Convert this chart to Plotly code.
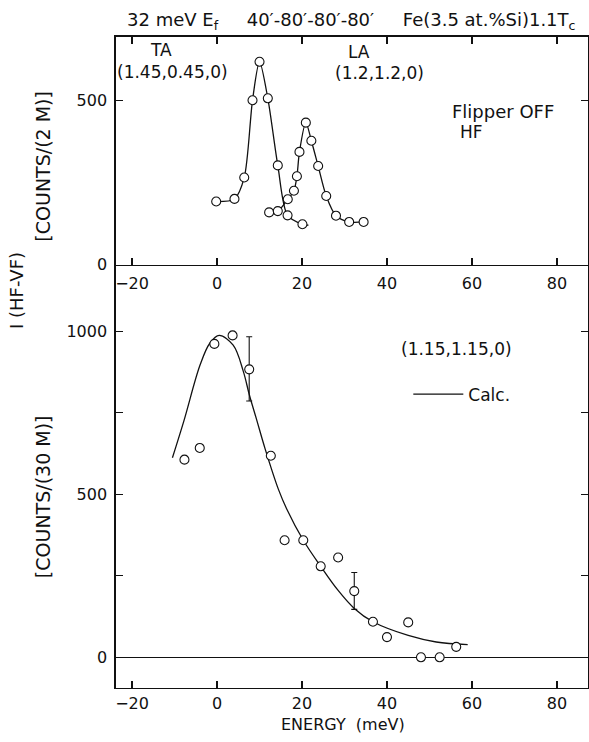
import plotly.graph_objects as go

# ---------------- data ----------------
# Top panel: Flipper OFF, HF  [counts / (2 M)]
ta_energy = [-0.2, 4.1, 6.4, 8.35, 10.0, 11.95, 14.3, 16.6, 20.1]
ta_counts = [192, 200, 265, 500, 617, 506, 302, 150, 123]
ta_fit_energy = [-0.2, 4.1, 6.4, 8.35, 10.0, 11.95, 14.3, 16.6, 20.1, 21.5]
ta_fit_counts = [192, 200, 265, 500, 617, 506, 302, 150, 123, 120]

la_energy = [12.26, 14.3, 16.65, 18.1, 18.8, 19.4, 20.9, 22.2, 23.8, 25.7, 28.0, 31.1, 34.5]
la_counts = [159, 163, 199, 225, 269, 343, 432, 377, 300, 209, 149, 130, 130]
la_fit_energy = [11.9, 12.26, 14.3, 16.65, 18.1, 18.8, 19.4, 20.9, 22.2, 23.8, 25.7, 28.0, 31.1, 34.5]
la_fit_counts = [165, 159, 163, 199, 225, 269, 343, 432, 377, 300, 209, 149, 130, 130]

# Bottom panel: I(HF-VF) [counts / (30 M)] at (1.15,1.15,0)
diff_energy = [-7.67, -4.07, -0.63, 3.66, 7.57, 12.66, 15.9, 20.3, 24.4, 28.5,
               32.3, 36.7, 40.0, 45.0, 48.0, 52.4, 56.3]
diff_counts = [606, 642, 961, 987, 883, 618, 359, 359, 279, 306,
               203, 109, 62, 107, 0, 0, 32]
err_energy = [7.57, 32.3]
err_counts = [883, 203]
err_plus = [100, 57]
err_minus = [97, 56]

calc_energy = [-10.5, -7.8, -4.0, -1.7, 0.5, 3.8, 6.2, 7.6, 9.4, 11.3, 14.45,
               16.4, 20.3, 24.4, 28.5, 32.3, 36.7, 45.0, 51.6, 59.0]
calc_counts = [612, 725, 896, 963, 987, 957, 876, 805, 725, 640, 515,
               455, 359, 279, 205, 150, 109, 67, 47, 39]

x_ticks = [-20, 0, 20, 40, 60, 80]
top_y_ticks = [0, 500]
bot_y_ticks = [0, 500, 1000]
bot_y_minor = [250, 750]

# ---------------- figure ----------------
W, H = 589, 742
FONT = "DejaVu Sans"
INK = "#111111"

def py(px):
    return 1 - px / H

x_dom = [115.7 / W, 588.5 / W]
top_dom = [py(268.3), py(37)]
bot_dom = [py(697), py(268.3)]

pt_marker = dict(symbol="circle", size=9, color="white", line=dict(width=1.1, color=INK))
fit_line = dict(color=INK, width=1.3, shape="spline", smoothing=0.8)

fig = go.Figure()
fig.add_trace(go.Scatter(x=ta_fit_energy, y=ta_fit_counts, mode="lines", line=fit_line,
                         xaxis="x", yaxis="y", showlegend=False, hoverinfo="skip"))
fig.add_trace(go.Scatter(x=la_fit_energy, y=la_fit_counts, mode="lines", line=fit_line,
                         xaxis="x", yaxis="y", showlegend=False, hoverinfo="skip"))
fig.add_trace(go.Scatter(x=ta_energy, y=ta_counts, mode="markers", marker=pt_marker,
                         xaxis="x", yaxis="y", showlegend=False))
fig.add_trace(go.Scatter(x=la_energy, y=la_counts, mode="markers", marker=pt_marker,
                         xaxis="x", yaxis="y", showlegend=False))

fig.add_trace(go.Scatter(x=calc_energy, y=calc_counts, mode="lines", name="Calc.",
                         line=dict(color=INK, width=1.3, shape="spline", smoothing=1.0),
                         xaxis="x2", yaxis="y2", showlegend=True))
fig.add_trace(go.Scatter(x=err_energy, y=err_counts, mode="markers",
                         marker=dict(size=1, color="rgba(0,0,0,0)"),
                         error_y=dict(type="data", symmetric=False, array=err_plus,
                                      arrayminus=err_minus, color=INK, thickness=1.1, width=3),
                         xaxis="x2", yaxis="y2", showlegend=False))
fig.add_trace(go.Scatter(x=diff_energy, y=diff_counts, mode="markers", marker=pt_marker,
                         xaxis="x2", yaxis="y2", showlegend=False))

axis_common = dict(showline=True, linecolor=INK, linewidth=1.2, ticks="inside",
                   tickcolor=INK, ticklen=7, tickwidth=1.2, showgrid=False,
                   tickfont=dict(family=FONT, size=16, color=INK))

fig.update_layout(
    width=W, height=H,
    margin=dict(l=0, r=0, t=0, b=0),
    paper_bgcolor="white", plot_bgcolor="white",
    font=dict(family=FONT, color=INK),
    xaxis=dict(domain=x_dom, range=[-23.9, 87.2], anchor="y", tickvals=x_ticks,
               mirror="ticks", zeroline=False, ticklabelstandoff=4, **axis_common),
    yaxis=dict(domain=top_dom, range=[0, 694], anchor="x", tickvals=top_y_ticks,
               mirror="ticks", zeroline=False, ticklabelstandoff=4, **axis_common),
    xaxis2=dict(domain=x_dom, range=[-23.9, 87.2], anchor="y2", tickvals=x_ticks,
                zeroline=False, ticklabelstandoff=1, **axis_common),
    yaxis2=dict(domain=bot_dom, range=[-92.9, 1203.9], anchor="x2", tickvals=bot_y_ticks,
                minor=dict(tickvals=bot_y_minor, ticks="inside", ticklen=7,
                           tickwidth=1.2, tickcolor=INK, showgrid=False),
                mirror="ticks", ticklabelstandoff=4, **axis_common,
                zeroline=True, zerolinecolor=INK, zerolinewidth=1.1),
    legend=dict(x=409 / W, y=py(400), xanchor="left", yanchor="middle",
                bgcolor="rgba(0,0,0,0)", font=dict(family=FONT, size=17, color=INK),
                itemwidth=50, tracegroupgap=0),
)

def ann(text, x, y, size=16, angle=0, xanchor="center"):
    fig.add_annotation(text=text, x=x / W, y=py(y), xref="paper", yref="paper",
                       showarrow=False, textangle=angle, xanchor=xanchor, yanchor="middle",
                       font=dict(family=FONT, size=size, color=INK))

ann("32 meV E<sub>f</sub>     40′-80′-80′-80′     Fe(3.5 at.%Si)1.1T<sub>c</sub>", 352, 21, size=18)
ann("TA", 161, 51, size=17)
ann("(1.45,0.45,0)", 173, 73, size=17)
ann("LA", 360, 53, size=17)
ann("(1.2,1.2,0)", 380, 74, size=17)
ann("Flipper OFF", 451, 113, size=18, xanchor="left")
ann("HF", 459, 134, size=17, xanchor="left")
ann("(1.15,1.15,0)", 457, 354, size=17)
ann("ENERGY  (meV)", 344, 734, size=16)
ann("I (HF-VF)", 16, 294, size=18, angle=-90)
ann("[COUNTS/(2 M)]", 43, 168, size=19, angle=-90)
ann("[COUNTS/(30 M)]", 43, 503, size=19, angle=-90)

fig.write_html(
    "out.html",
    config={"displayModeBar": False, "staticPlot": True},
    post_script=(
        "document.documentElement.style.margin='0';"
        "document.documentElement.style.overflow='hidden';"
        "document.body.style.margin='0';document.body.style.overflow='hidden';"
        "var d=document.getElementById('{plot_id}');"
        "d.style.position='absolute';d.style.top='0px';d.style.left='0px';"
    ),
)
